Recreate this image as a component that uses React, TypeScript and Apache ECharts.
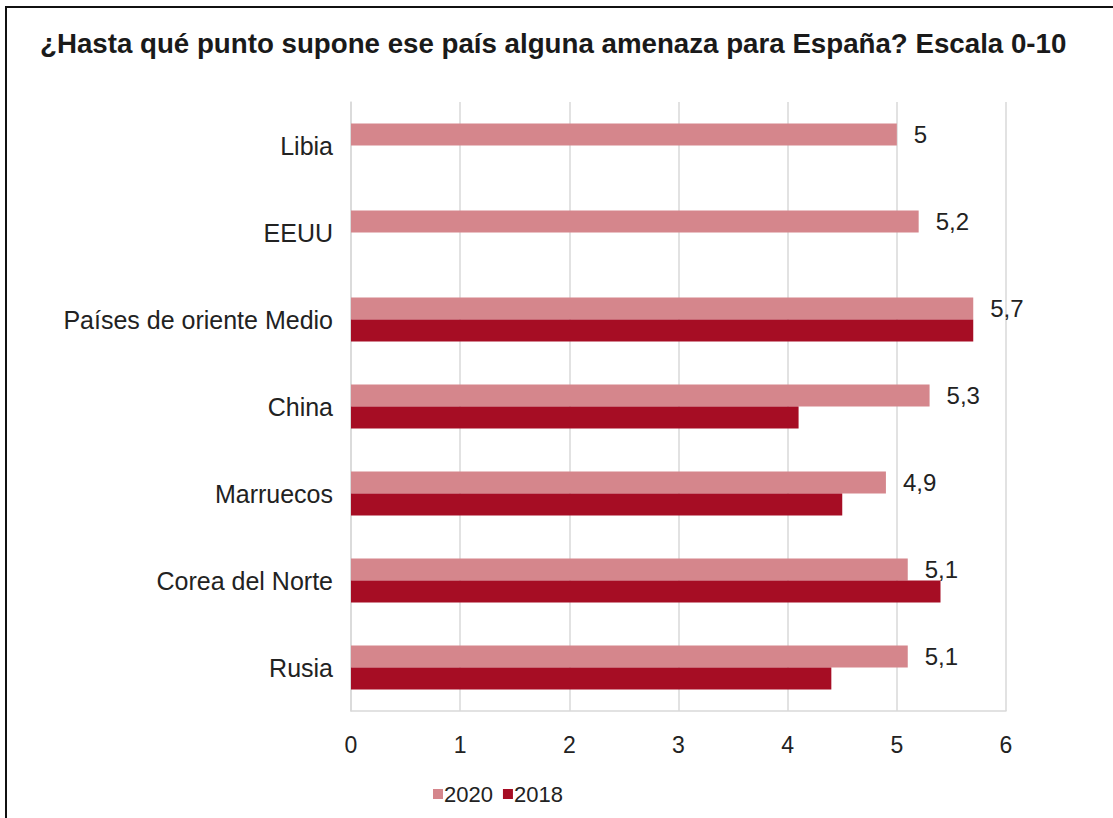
import React, { useEffect, useRef } from "react";
import * as echarts from "echarts";

const categories = ["Libia", "EEUU", "Países de oriente Medio", "China", "Marruecos", "Corea del Norte", "Rusia"];
const values2020 = [5, 5.2, 5.7, 5.3, 4.9, 5.1, 5.1];
const values2018: (number | null)[] = [null, null, 5.7, 4.1, 4.5, 5.4, 4.4];
const xTicks = [0, 1, 2, 3, 4, 5, 6];
const titleText = "¿Hasta qué punto supone ese país alguna amenaza para España? Escala 0-10";

export default function App() {
  const ref = useRef<HTMLDivElement>(null);
  useEffect(() => {
    if (!ref.current) return;
    const chart = echarts.init(ref.current, null, { renderer: "svg" });
    const font = "'Liberation Sans', Arial, sans-serif";
    chart.setOption({
      animation: false,
      backgroundColor: "#ffffff",
      graphic: [
        {
          type: "rect",
          shape: { x: 6, y: 7, width: 1130, height: 840 },
          style: { fill: "none", stroke: "#111", lineWidth: 2 },
          silent: true,
        },
      ],
      title: {
        text: titleText,
        left: 35,
        top: 24,
        textStyle: { fontFamily: font, fontSize: 27.7, fontWeight: "bold", color: "#1a1a1a" },
      },
      legend: {
        data: ["2020", "2018"],
        left: 428,
        top: 778,
        icon: "rect",
        itemWidth: 10,
        itemHeight: 10,
        itemGap: 10,
        textStyle: { fontFamily: font, fontSize: 22, color: "#222", padding: [0, 0, 0, -4] },
      },
      grid: { left: 351, right: 107, top: 102, bottom: 107, containLabel: false },
      xAxis: {
        type: "value",
        min: 0,
        max: 6,
        interval: 1,
        axisLine: { show: true, lineStyle: { color: "#d9d9d9", width: 1.5 } },
        axisTick: { show: false },
        splitLine: { show: true, lineStyle: { color: "#d9d9d9", width: 1.5 } },
        axisLabel: {
          fontFamily: font,
          fontSize: 23,
          color: "#222",
          margin: 22,
          formatter: (v: number) => (xTicks.includes(v) ? String(v) : ""),
        },
      },
      yAxis: {
        type: "category",
        data: categories,
        inverse: true,
        axisLine: { show: true, lineStyle: { color: "#d9d9d9", width: 1.5 } },
        axisTick: { show: false },
        axisLabel: { fontFamily: font, fontSize: 25, color: "#222", margin: 18 },
      },
      series: [
        {
          name: "2020",
          type: "bar",
          data: values2020,
          barWidth: 22,
          barGap: "0%",
          itemStyle: { color: "#d5868c" },
          label: {
            show: true,
            position: "right",
            distance: 17,
            offset: [0, 0],
            fontFamily: font,
            fontSize: 24,
            color: "#222",
            formatter: (p: any) => String(p.value).replace(".", ","),
          },
        },
        {
          name: "2018",
          type: "bar",
          data: values2018,
          barWidth: 22,
          barGap: "0%",
          itemStyle: { color: "#a60d24" },
        },
      ],
    });
    return () => chart.dispose();
  }, []);
  return (
    <div
      ref={ref}
      style={{ position: "fixed", left: 0, top: 0, width: 1113, height: 818 }}
    />
  );
}
